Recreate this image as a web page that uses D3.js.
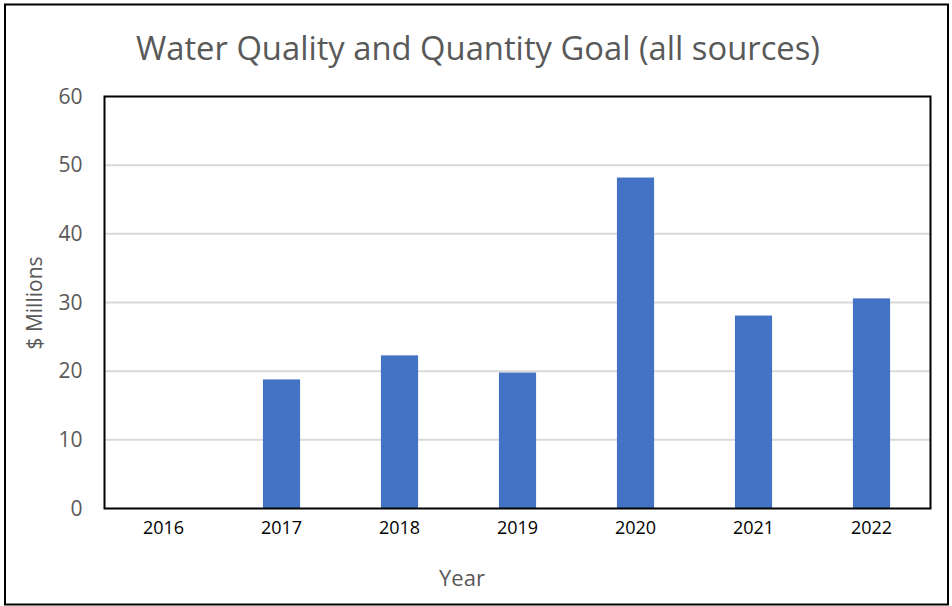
<!DOCTYPE html>
<html>
<head>
<meta charset="utf-8">
<script src="https://cdn.jsdelivr.net/npm/d3@7"></script>
<style>
html,body{margin:0;padding:0;background:#fff;}
svg{display:block;font-family:"Open Sans",sans-serif;}
</style>
</head>
<body>
<svg id="chart" width="952" height="606"></svg>
<script>
const years = ["2016","2017","2018","2019","2020","2021","2022"];
const values = [0, 18.8, 22.3, 19.8, 48.2, 28.1, 30.6];
const yTicks = [0,10,20,30,40,50,60];
const titleText = "Water Quality and Quantity Goal (all sources)";
const xTitle = "Year";
const yTitle = "$ Millions";

const svg = d3.select("#chart");
const W = 952, H = 606;
const m = {left:104.5, right:930.5, top:96.5, bottom:508.5};

// outer frame
svg.append("rect").attr("x",5).attr("y",4.5).attr("width",943).attr("height",600)
  .attr("fill","#fff").attr("stroke","#000").attr("stroke-width",2);

const x = d3.scaleBand().domain(years).range([m.left,m.right]).paddingInner(0.685).paddingOuter(0.3425);
const y = d3.scaleLinear().domain([0,60]).range([m.bottom,m.top]);

// gridlines
svg.append("g").selectAll("line").data(yTicks.filter(d=>d>0 && d<60)).join("line")
  .attr("x1",m.left).attr("x2",m.right)
  .attr("y1",d=>y(d)).attr("y2",d=>y(d))
  .attr("stroke","#d9d9d9").attr("stroke-width",2);

// bars
svg.append("g").selectAll("rect").data(years.map((yr,i)=>({yr,v:values[i]})).filter(d=>d.v>0)).join("rect")
  .attr("x",d=>x(d.yr)).attr("width",x.bandwidth())
  .attr("y",d=>y(d.v)).attr("height",d=>y(0)-y(d.v))
  .attr("fill","#4472c4");

// plot box
svg.append("rect").attr("x",m.left).attr("y",m.top).attr("width",m.right-m.left).attr("height",m.bottom-m.top)
  .attr("fill","none").attr("stroke","#000").attr("stroke-width",2);

// y axis labels
const yAxis = d3.axisLeft(y).tickValues(yTicks).tickSize(0).tickPadding(22);
const gy = svg.append("g").attr("transform",`translate(${m.left},0)`).call(yAxis);
gy.select(".domain").remove();
gy.selectAll("text").attr("font-size",21).attr("fill","#595959").attr("font-family","Open Sans, sans-serif");

// x axis labels
const xAxis = d3.axisBottom(x).tickSize(0).tickPadding(13);
const gx = svg.append("g").attr("transform",`translate(0,${m.bottom})`).call(xAxis);
gx.select(".domain").remove();
gx.selectAll("text").attr("font-size",18).attr("fill","#000").attr("font-family","Open Sans, sans-serif");

// title
const t = svg.append("text").attr("x",478).attr("y",60).attr("text-anchor","middle")
  .attr("font-size",30).attr("fill","#595959").text(titleText);
const tw = t.node().getComputedTextLength();
t.attr("font-size", 30*684/tw);

svg.append("text").attr("x",462).attr("y",586).attr("text-anchor","middle")
  .attr("font-size",22).attr("fill","#595959").text(xTitle);

svg.append("text").attr("transform","translate(42,303) rotate(-90)").attr("text-anchor","middle")
  .attr("font-size",21).attr("fill","#595959").text(yTitle);
</script>
</body>
</html>
